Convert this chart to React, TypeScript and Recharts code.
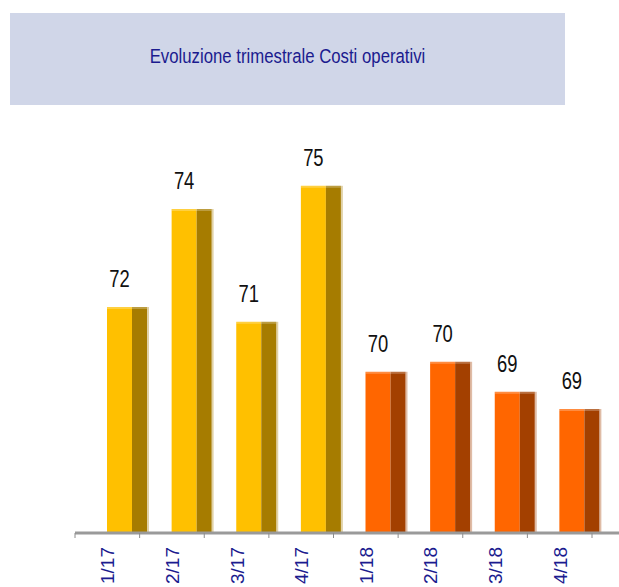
import React from "react";
import { BarChart, Bar, XAxis, YAxis, LabelList } from "recharts";

const quarters = ["1/17", "2/17", "3/17", "4/17", "1/18", "2/18", "3/18", "4/18"];
const costi = [71.55, 74.0, 71.18, 74.58, 69.93, 70.18, 69.43, 69.0];
const yDomain = [65.9, 75.9];
const titolo = "Evoluzione trimestrale Costi operativi";

const data = quarters.map((q, i) => ({ q, costi: costi[i] }));

const W = 619;
const H = 587;
const PLOT_LEFT = 75;
const PAD_RIGHT = 27;
const AXIS_Y = 533;
const BAND = (W - PLOT_LEFT - PAD_RIGHT) / quarters.length;
const NAVY = "#1b1b8f";
const FONT = "'Liberation Sans', Arial, sans-serif";

// front face + darker side, like the old 3D excel bars
function Bar3D(props: any) {
  const { x, y, width, height, index } = props;
  if (height == null || height <= 0) return null;
  const is17 = quarters[index].endsWith("/17");
  const front = is17 ? "#FFC000" : "#FF6600";
  const side = is17 ? "#A67C00" : "#A34000";
  const fx = x + width / 2;
  return (
    <g>
      <rect x={fx} y={y} width={25} height={height} fill={front} />
      <rect x={fx + 25} y={y} width={15} height={height} fill={side} />
      <rect x={fx} y={y} width={40} height={2} fill="#ffffff" fillOpacity={0.25} />
      <rect x={fx + 40} y={y} width={2} height={height} fill={side} fillOpacity={0.35} />
    </g>
  );
}

function ValueLabel(props: any) {
  const vb = props.viewBox ?? props;
  const x = props.x ?? vb.x;
  const y = props.y ?? vb.y;
  const width = props.width ?? vb.width;
  const cx = x + width / 2 + 12.5;
  return (
    <text
      transform={`translate(${cx},${y - 20}) scale(0.8,1)`}
      textAnchor="middle"
      fontSize={23}
      fontFamily={FONT}
      fill="#111111"
    >
      {Math.round(Number(props.value))}
    </text>
  );
}

function QuarterTick(props: any) {
  const { x, payload, index } = props;
  const left = x - BAND / 2;
  return (
    <g>
      <line x1={left} x2={left} y1={AXIS_Y} y2={AXIS_Y + 5} stroke="#8c8c8c" strokeWidth={1} />
      {index === quarters.length - 1 && (
        <line x1={left + BAND} x2={left + BAND} y1={AXIS_Y} y2={AXIS_Y + 5} stroke="#8c8c8c" strokeWidth={1} />
      )}
      <text
        transform={`translate(${x + 7},${AXIS_Y + 14}) rotate(-90)`}
        textAnchor="end"
        fontSize={19}
        fontFamily={FONT}
        fill={NAVY}
      >
        {payload.value}
      </text>
    </g>
  );
}

export default function App() {
  return (
    <div style={{ position: "absolute", left: 0, top: 0, width: W, height: H, background: "#fff" }}>
      <div
        style={{ position: "absolute", left: 10, top: 13, width: 555, height: 92, background: "#D0D6E8" }}
      />
      <svg style={{ position: "absolute", left: 0, top: 0 }} width={W} height={110}>
        <text
          transform="translate(287.5,63) scale(0.86,1)"
          textAnchor="middle"
          fontSize={19.5}
          fontFamily={FONT}
          fill={NAVY}
        >
          {titolo}
        </text>
      </svg>
      <div style={{ position: "absolute", left: 0, top: 0 }}>
        <BarChart
          width={W}
          height={H}
          data={data}
          margin={{ top: 133, right: 0, left: PLOT_LEFT, bottom: 0 }}
        >
          <XAxis
            dataKey="q"
            height={H - AXIS_Y}
            padding={{ left: 0, right: PAD_RIGHT }}
            axisLine={{ stroke: "#9a9a9a", strokeWidth: 3 }}
            tickLine={false}
            tickSize={0}
            tick={<QuarterTick />}
            interval={0}
          />
          <YAxis hide domain={yDomain} allowDataOverflow />
          <Bar dataKey="costi" barSize={40} shape={<Bar3D />} isAnimationActive={false}>
            <LabelList dataKey="costi" content={<ValueLabel />} />
          </Bar>
        </BarChart>
      </div>
    </div>
  );
}
